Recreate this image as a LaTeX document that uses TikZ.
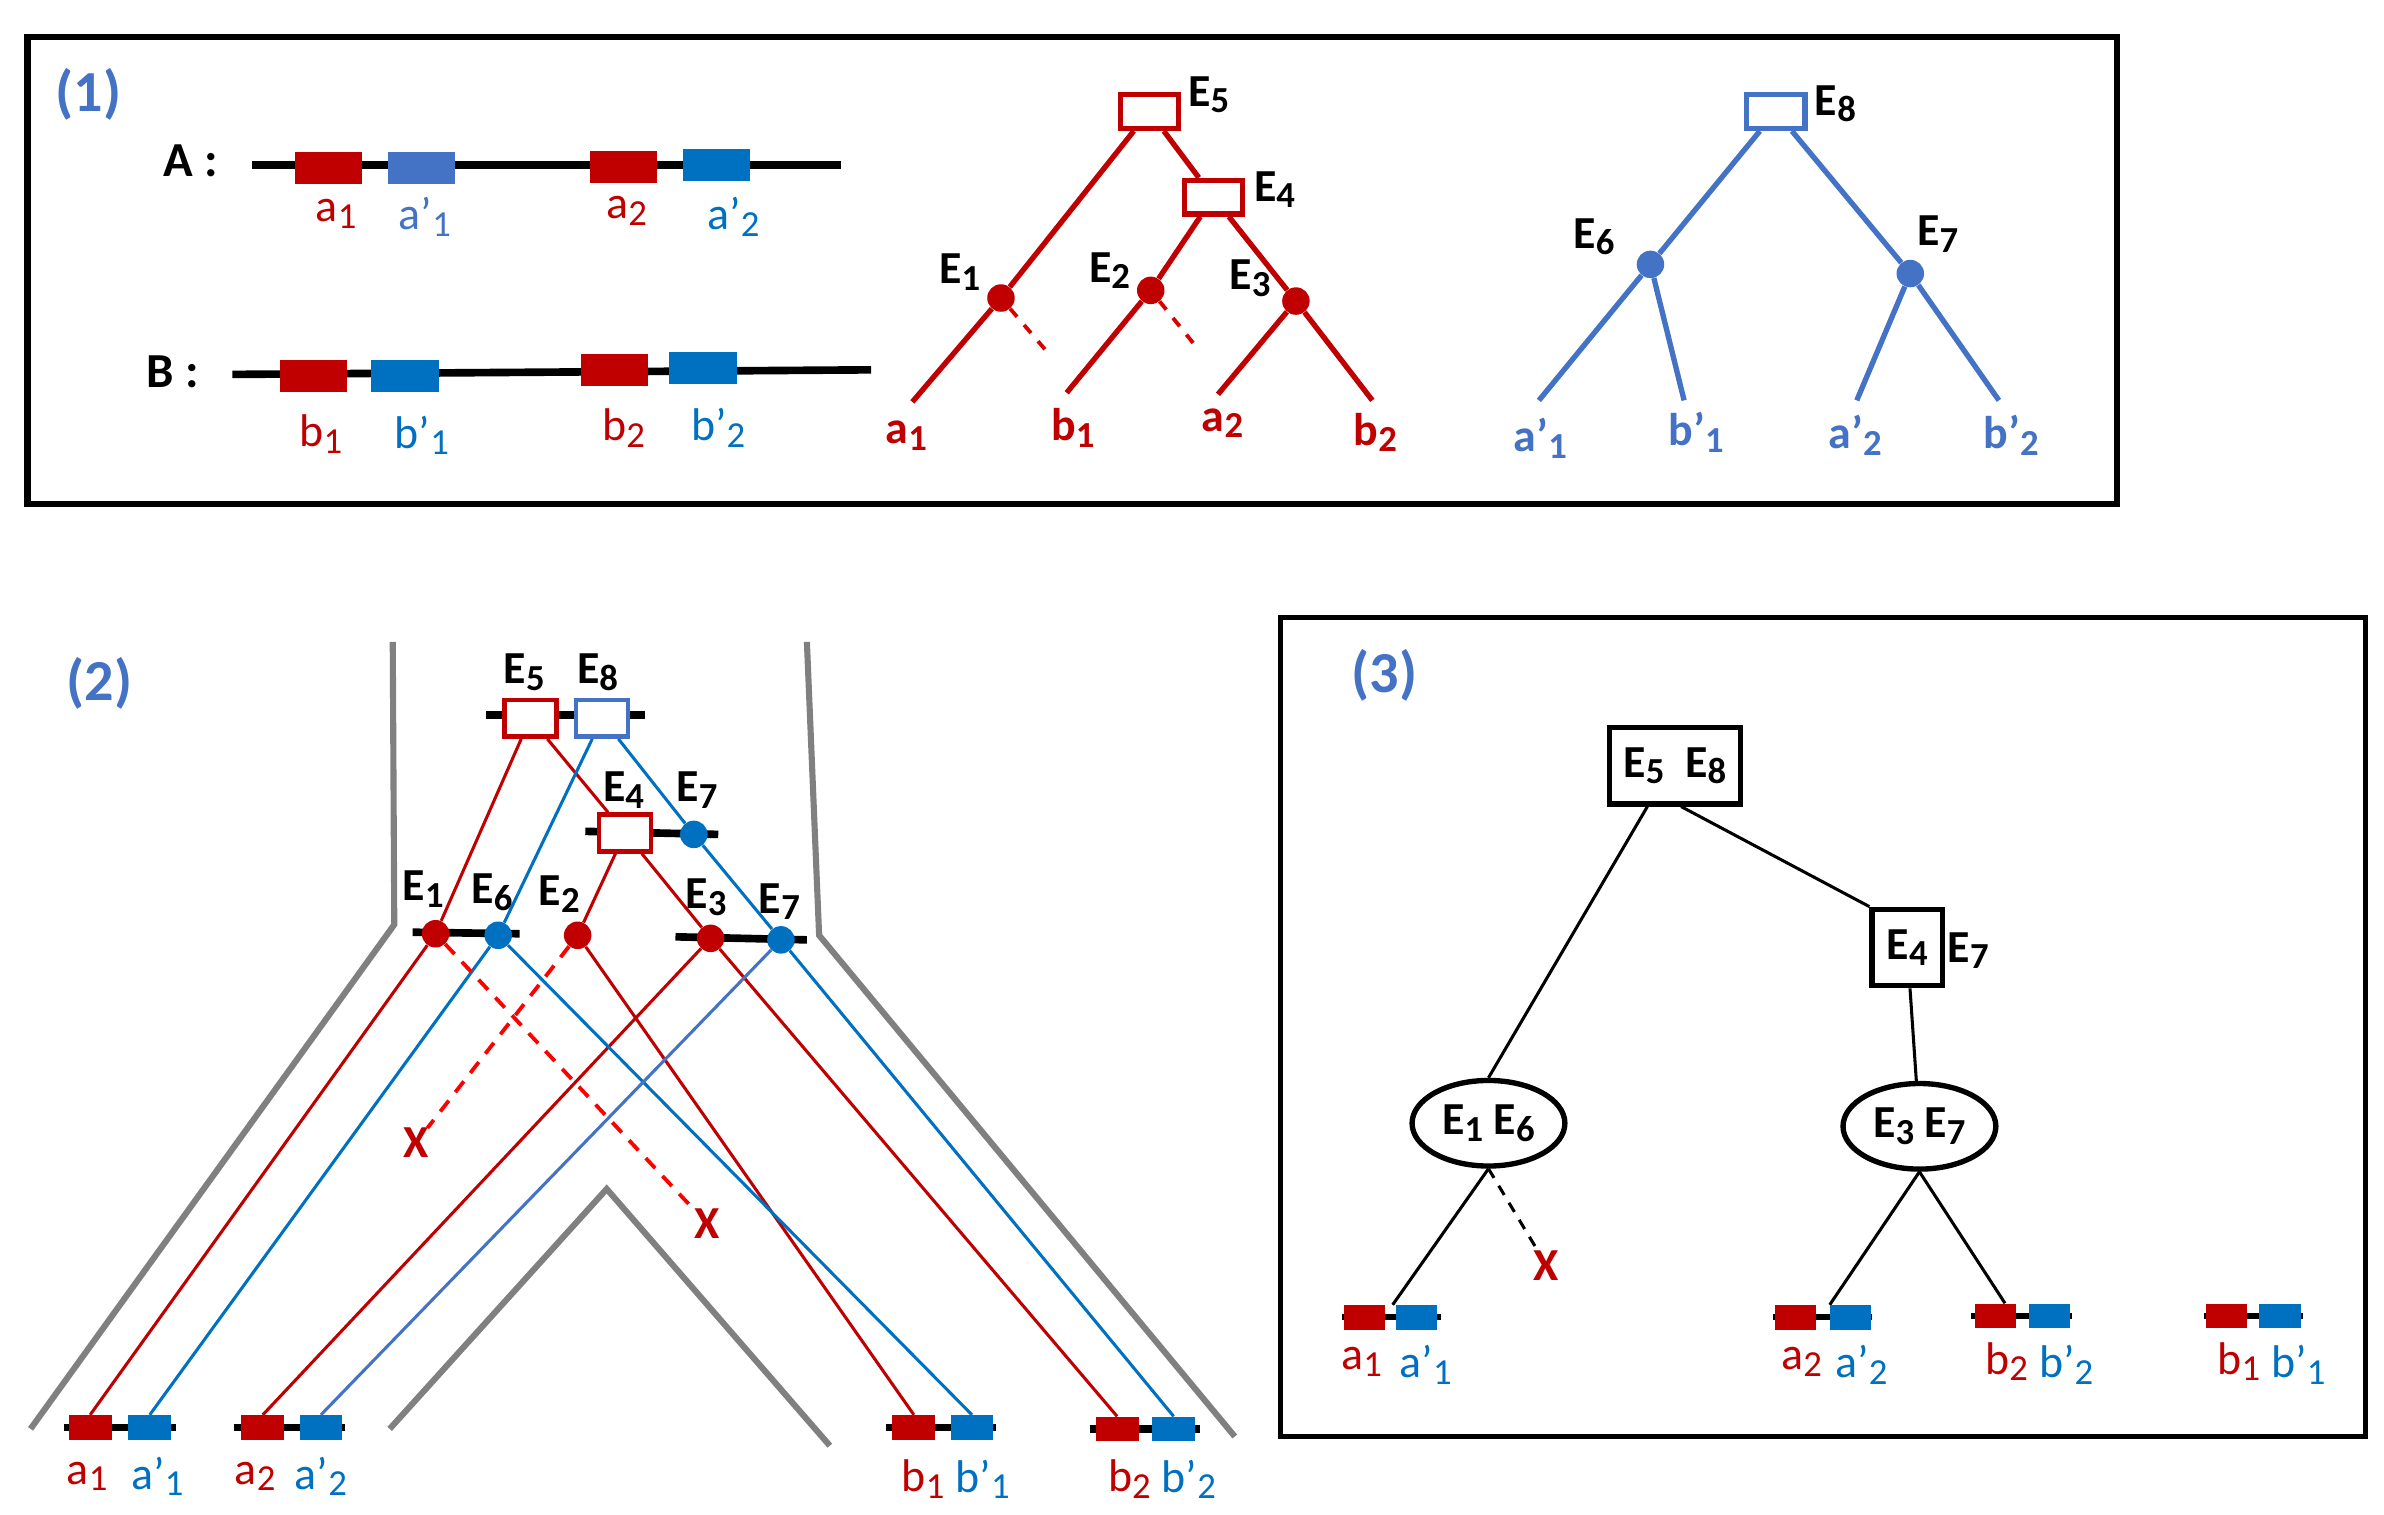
\documentclass[tikz,border=0pt]{standalone}
\usepackage{fontspec}
\setmainfont{Carlito}
\usetikzlibrary{backgrounds,shapes.geometric}
\definecolor{rd}{HTML}{C00000}
\definecolor{bl}{HTML}{0070C0}
\definecolor{lb}{HTML}{4472C4}
\definecolor{gr}{HTML}{808080}
\newcommand{\sbs}[1]{\raisebox{-0.3ex}{\fontsize{24}{26}\selectfont #1}}
\tikzset{
 lab/.style={inner sep=0,font=\fontsize{30}{32}\selectfont},
 blab/.style={lab,font=\fontsize{30}{32}\selectfont\bfseries},
 ttl/.style={inner sep=0,text=lb,font=\fontsize{38}{40}\selectfont\bfseries},
 gene/.style={rectangle,fill=#1,inner sep=0,minimum width=44,minimum height=21},
 sgene/.style={rectangle,fill=#1,inner sep=0,minimum width=28,minimum height=16},
 tbox/.style={rectangle,draw=#1,line width=3.5,fill=white,inner sep=0,minimum width=38,minimum height=22},
 dot/.style={circle,fill=#1,inner sep=0,minimum size=18},
 t1/.style={line width=3.5,#1},
 t2/.style={line width=2,#1},
 bar/.style={line width=5,black},
 grl/.style={line width=4,gr},
}
\begin{document}
\begin{tikzpicture}[x=1pt,y=-1pt]
\useasboundingbox (0,0) rectangle (1560,991);
% ---------------- panel 1
\node[draw,line width=4,minimum width=1367,minimum height=306,inner sep=0] (P1) at (701.5,177) {};
\node[ttl] (t1) at (58,62) {(1)};
\node[lab,font=\fontsize{32}{34}\selectfont\bfseries] (A) at (125,105) {A :};
\node[lab,font=\fontsize{32}{34}\selectfont\bfseries] (B) at (113,243) {B :};
\coordinate (A0) at (165,108); \coordinate (A1) at (550,108);
\coordinate (B0) at (152,245); \coordinate (B1) at (570,242);
\draw[bar] (A0) -- (A1); \draw[bar] (B0) -- (B1);
\node[gene=rd] (ga1) at (215,110) {};
\node[gene=lb] (gap1) at (276,110) {};
\node[gene=rd] (ga2) at (408,109) {};
\node[gene=bl] (gap2) at (469,108) {};
\node[gene=rd] (gb1) at (205,246) {};
\node[gene=bl] (gbp1) at (265,246) {};
\node[gene=rd] (gb2) at (402,242) {};
\node[gene=bl] (gbp2) at (460,241) {};
\node[lab,text=rd] (la1) at (220,140) {a\sbs{1}};
\node[lab,text=lb] (lap1) at (278,142) {a’\sbs{1}};
\node[lab,text=rd] (la2) at (410,138) {a\sbs{2}};
\node[lab,text=bl] (lap2) at (480,142) {a’\sbs{2}};
\node[lab,text=rd] (lb1) at (210,284) {b\sbs{1}};
\node[lab,text=bl] (lbp1) at (276,285) {b’\sbs{1}};
\node[lab,text=rd] (lb2) at (408,280) {b\sbs{2}};
\node[lab,text=bl] (lbp2) at (470,280) {b’\sbs{2}};
% red tree
\node[tbox=rd] (r5) at (752,73) {};
\node[tbox=rd] (r4) at (794,129) {};
\node[dot=rd] (r1) at (655,195) {};
\node[dot=rd] (r2) at (753,190) {};
\node[dot=rd] (r3) at (848,197) {};
\coordinate (ra1) at (597,263); \coordinate (rb1) at (698,257);
\coordinate (ra2) at (797,258); \coordinate (rb2) at (898,262);
\coordinate (rd1) at (685,230); \coordinate (rd2) at (782,226);
\begin{scope}[on background layer]
\draw[t1=rd] (r5) -- (r1) -- (ra1);
\draw[t1=rd] (r5) -- (r4);
\draw[t1=rd] (r4) -- (r2) -- (rb1);
\draw[t1=rd] (r4) -- (r3) -- (ra2);
\draw[t1=rd] (r3) -- (rb2);
\draw[line width=2.5,red!85!black,dash pattern=on 7 off 7] (r1) -- (rd1);
\draw[line width=2.5,red!85!black,dash pattern=on 7 off 7] (r2) -- (rd2);
\end{scope}
\node[blab] (lr5) at (791,62) {E\sbs{5}};
\node[blab] (lr4) at (834,124) {E\sbs{4}};
\node[blab] (lr1) at (628,178) {E\sbs{1}};
\node[blab] (lr2) at (726,177) {E\sbs{2}};
\node[blab] (lr3) at (818,182) {E\sbs{3}};
\node[blab,text=rd] (lra1) at (593,285) {a\sbs{1}};
\node[blab,text=rd] (lrb1) at (702,280) {b\sbs{1}};
\node[blab,text=rd] (lra2) at (800,277) {a\sbs{2}};
\node[blab,text=rd] (lrb2) at (900,283) {b\sbs{2}};
% blue tree
\node[tbox=lb] (b8) at (1162,73) {};
\node[dot=lb] (b6) at (1080,173) {};
\node[dot=lb] (b7) at (1250,179) {};
\coordinate (ba1) at (1007,262); \coordinate (bb1) at (1102,262);
\coordinate (ba2) at (1215,262); \coordinate (bb2) at (1308,262);
\begin{scope}[on background layer]
\draw[t1=lb] (b8) -- (b6) -- (ba1);
\draw[t1=lb] (b6) -- (bb1);
\draw[t1=lb] (b8) -- (b7) -- (ba2);
\draw[t1=lb] (b7) -- (bb2);
\end{scope}
\node[blab] (lb8) at (1201,68) {E\sbs{8}};
\node[blab] (lb6) at (1043,155) {E\sbs{6}};
\node[blab] (lb7) at (1268,153) {E\sbs{7}};
\node[blab,text=lb] (lba1) at (1008,287) {a’\sbs{1}};
\node[blab,text=lb] (lbb1) at (1110,283) {b’\sbs{1}};
\node[blab,text=lb] (lba2) at (1214,285) {a’\sbs{2}};
\node[blab,text=lb] (lbb2) at (1316,285) {b’\sbs{2}};
% ---------------- panel 2
\node[ttl] (t2) at (65,447) {(2)};
\coordinate (g1) at (257,420); \coordinate (g2) at (258,605); \coordinate (g3) at (20,935);
\coordinate (g4) at (528,420); \coordinate (g5) at (536,612); \coordinate (g6) at (808,940);
\coordinate (g7) at (255,935); \coordinate (g8) at (397,778); \coordinate (g9) at (543,946);
\draw[grl] (g1) -- (g2) -- (g3);
\draw[grl] (g4) -- (g5) -- (g6);
\draw[grl] (g7) -- (g8) -- (g9);
\coordinate (s1) at (318,468); \coordinate (s2) at (422,468);
\coordinate (s3) at (383,544); \coordinate (s4) at (470,546);
\coordinate (s5) at (270,610); \coordinate (s6) at (340,611);
\coordinate (s7) at (442,613); \coordinate (s8) at (528,615);
\draw[bar] (s1) -- (s2); \draw[bar] (s3) -- (s4);
\draw[bar] (s5) -- (s6); \draw[bar] (s7) -- (s8);
\node[tbox=rd,minimum width=34,minimum height=24,line width=3] (q5) at (347,470) {};
\node[tbox=lb,minimum width=34,minimum height=24,line width=3] (q8) at (394,470) {};
\node[tbox=rd,minimum width=34,minimum height=24,line width=3] (q4) at (409,545) {};
\node[dot=bl] (q7a) at (454,546) {};
\node[dot=rd] (q1) at (285,611) {};
\node[dot=bl] (q6) at (326,612) {};
\node[dot=rd] (q2) at (378,612) {};
\node[dot=rd] (q3) at (465,614) {};
\node[dot=bl] (q7) at (511,615) {};
% leaves
\coordinate (k1) at (42,934); \coordinate (k2) at (115,934);
\coordinate (k3) at (153,934); \coordinate (k4) at (226,934);
\coordinate (k5) at (580,934); \coordinate (k6) at (652,934);
\coordinate (k7) at (713,935); \coordinate (k8) at (785,935);
\draw[bar] (k1) -- (k2); \draw[bar] (k3) -- (k4);
\draw[bar] (k5) -- (k6); \draw[bar] (k7) -- (k8);
\node[sgene=rd] (ka1) at (59,934) {};
\node[sgene=bl] (kap1) at (98,934) {};
\node[sgene=rd] (ka2) at (172,934) {};
\node[sgene=bl] (kap2) at (210,934) {};
\node[sgene=rd] (kb1) at (598,934) {};
\node[sgene=bl] (kbp1) at (636,934) {};
\node[sgene=rd] (kb2) at (731,935) {};
\node[sgene=bl] (kbp2) at (768,935) {};
\node[blab,text=rd] (x1) at (272,748) {X};
\node[blab,text=rd] (x2) at (463,801) {X};
\begin{scope}[on background layer]
\draw[t2=rd] (q5) -- (q1) -- (ka1.north);
\draw[t2=rd] (q5) -- (q4);
\draw[t2=rd] (q4) -- (q2) -- (kb1.north);
\draw[t2=rd] (q4) -- (q3) -- (ka2.north);
\draw[t2=rd] (q3) -- (kb2.north);
\draw[t2=bl] (q8) -- (q6) -- (kap1.north);
\draw[t2=bl] (q6) -- (kbp1.north);
\draw[t2=bl] (q8) -- (q7a) -- (q7) -- (kbp2.north);
\draw[t2=lb] (q7) -- (kap2.north);
\draw[line width=2.5,red,dash pattern=on 9 off 7] (q1) -- (x2);
\draw[line width=2.5,red,dash pattern=on 9 off 7] (q2) -- (x1);
\end{scope}
\node[blab] (lq5) at (343,440) {E\sbs{5}};
\node[blab] (lq8) at (391,440) {E\sbs{8}};
\node[blab] (lq4) at (408,517) {E\sbs{4}};
\node[blab] (lq7a) at (456,517) {E\sbs{7}};
\node[blab] (lq1) at (277,582) {E\sbs{1}};
\node[blab] (lq6) at (322,584) {E\sbs{6}};
\node[blab] (lq2) at (366,585) {E\sbs{2}};
\node[blab] (lq3) at (462,587) {E\sbs{3}};
\node[blab] (lq7) at (510,590) {E\sbs{7}};
\node[lab,text=rd] (lka1) at (57,966) {a\sbs{1}};
\node[lab,text=bl] (lkap1) at (103,966) {a’\sbs{1}};
\node[lab,text=rd] (lka2) at (167,966) {a\sbs{2}};
\node[lab,text=bl] (lkap2) at (210,966) {a’\sbs{2}};
\node[lab,text=rd] (lkb1) at (604,968) {b\sbs{1}};
\node[lab,text=bl] (lkbp1) at (643,968) {b’\sbs{1}};
\node[lab,text=rd] (lkb2) at (739,968) {b\sbs{2}};
\node[lab,text=bl] (lkbp2) at (778,968) {b’\sbs{2}};
% ---------------- panel 3
\node[draw,line width=3.5,minimum width=710,minimum height=536,inner sep=0] (P3) at (1193,672) {};
\node[ttl] (t3) at (906,442) {(3)};
\node[draw,line width=3.5,minimum width=86,minimum height=50,inner sep=0,blab] (n58) at (1096,501) {E\sbs{5}\ \ E\sbs{8}};
\node[draw,line width=3.5,minimum width=46,minimum height=50,inner sep=0,blab] (n47) at (1248,620) {E\sbs{4}};
\node[blab] (n7l) at (1288,622) {E\sbs{7}};
\node[ellipse,draw,line width=3.5,minimum width=100,minimum height=56,inner sep=0,blab] (n16) at (974,735) {E\sbs{1}\ E\sbs{6}};
\node[ellipse,draw,line width=3.5,minimum width=100,minimum height=56,inner sep=0,blab] (n37) at (1256,737) {E\sbs{3}\ E\sbs{7}};
\node[blab,text=rd] (x3) at (1012,828) {X};
\coordinate (m1) at (878,862); \coordinate (m2) at (943,862);
\coordinate (m3) at (1160,862); \coordinate (m4) at (1225,862);
\coordinate (m5) at (1290,861); \coordinate (m6) at (1356,861);
\coordinate (m7) at (1442,861); \coordinate (m8) at (1507,861);
\draw[bar,line width=4] (m1) -- (m2); \draw[bar,line width=4] (m3) -- (m4);
\draw[bar,line width=4] (m5) -- (m6); \draw[bar,line width=4] (m7) -- (m8);
\node[sgene=rd,minimum width=27] (ma1) at (893,862) {};
\node[sgene=bl,minimum width=27] (map1) at (927,862) {};
\node[sgene=rd,minimum width=27] (ma2) at (1175,862) {};
\node[sgene=bl,minimum width=27] (map2) at (1211,862) {};
\node[sgene=rd,minimum width=27] (mb2) at (1306,861) {};
\node[sgene=bl,minimum width=27] (mbp2) at (1341,861) {};
\node[sgene=rd,minimum width=27] (mb1) at (1457,861) {};
\node[sgene=bl,minimum width=27] (mbp1) at (1492,861) {};
\begin{scope}[on background layer]
\draw[line width=2] ([xshift=-18]n58.south) -- (n16.north);
\draw[line width=2] ([xshift=4]n58.south) -- (n47.north west);
\draw[line width=2] (n47) -- (n37);
\draw[line width=2] (n16.south) -- ([xshift=-2]map1.north west);
\draw[line width=2,dash pattern=on 7 off 6] (n16.south) -- (x3);
\draw[line width=2] (n37.south) -- (map2.north west);
\draw[line width=2] (n37.south) -- ([xshift=6]mb2.north);
\end{scope}
\node[lab,text=rd] (lma1) at (891,891) {a\sbs{1}};
\node[lab,text=bl] (lmap1) at (933,893) {a’\sbs{1}};
\node[lab,text=rd] (lma2) at (1179,891) {a\sbs{2}};
\node[lab,text=bl] (lmap2) at (1218,893) {a’\sbs{2}};
\node[lab,text=rd] (lmb2) at (1313,891) {b\sbs{2}};
\node[lab,text=bl] (lmbp2) at (1352,893) {b’\sbs{2}};
\node[lab,text=rd] (lmb1) at (1465,891) {b\sbs{1}};
\node[lab,text=bl] (lmbp1) at (1504,893) {b’\sbs{1}};
\end{tikzpicture}
\end{document}
